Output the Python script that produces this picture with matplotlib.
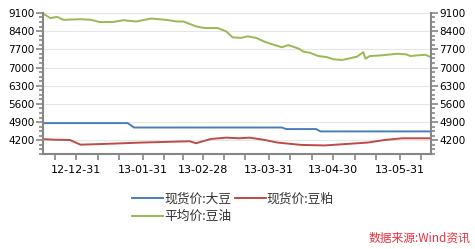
import matplotlib
matplotlib.use('Agg')
import matplotlib.pyplot as plt
import numpy as np
import pandas as pd

plt.rcParams['font.family'] = ['Noto Sans CJK SC', 'DejaVu Sans']

# 现货价:大豆
soy_dates = ['2012-12-16', '2013-01-24', '2013-01-27', '2013-04-06', '2013-04-08',
             '2013-04-22', '2013-04-24', '2013-06-14']
soy_vals = [4860, 4860, 4690, 4690, 4630, 4630, 4540, 4540]

# 现货价:豆粕
meal_dates = ['2012-12-16', '2012-12-21', '2012-12-28', '2013-01-02', '2013-01-14',
              '2013-01-30', '2013-02-17', '2013-02-22', '2013-02-25', '2013-02-28',
              '2013-03-04', '2013-03-11', '2013-03-17', '2013-03-22', '2013-03-29',
              '2013-04-04', '2013-04-15', '2013-04-26', '2013-05-05', '2013-05-16',
              '2013-05-24', '2013-06-01', '2013-06-14']
meal_vals = [4240, 4220, 4210, 4030, 4060,
             4110, 4150, 4160, 4085, 4160,
             4250, 4300, 4275, 4300, 4210,
             4110, 4020, 4000, 4050, 4110,
             4210, 4275, 4275]

# 平均价:豆油
oil_dates = ['2012-12-16', '2012-12-19', '2012-12-22', '2012-12-25', '2013-01-02',
             '2013-01-07', '2013-01-11', '2013-01-17', '2013-01-22', '2013-01-28',
             '2013-02-04', '2013-02-11', '2013-02-16', '2013-02-19', '2013-02-25',
             '2013-03-01', '2013-03-07', '2013-03-11', '2013-03-14', '2013-03-18',
             '2013-03-21', '2013-03-25', '2013-03-29', '2013-04-02', '2013-04-06',
             '2013-04-09', '2013-04-12', '2013-04-14', '2013-04-16', '2013-04-19',
             '2013-04-23', '2013-04-27', '2013-04-30', '2013-05-04', '2013-05-07',
             '2013-05-09', '2013-05-11', '2013-05-14', '2013-05-15', '2013-05-17',
             '2013-05-22', '2013-05-30', '2013-06-03', '2013-06-05', '2013-06-08',
             '2013-06-12', '2013-06-14']
oil_vals = [9050, 8900, 8950, 8835, 8860,
            8835, 8750, 8750, 8820, 8770,
            8885, 8835, 8770, 8770, 8580,
            8520, 8520, 8390, 8160, 8140,
            8200, 8140, 7990, 7880, 7780,
            7860, 7780, 7720, 7610, 7570,
            7440, 7400, 7315, 7290, 7340,
            7380, 7415, 7590, 7340, 7440,
            7465, 7530, 7505, 7440, 7465,
            7490, 7415]

tick_labels = ['12-12-31', '13-01-31', '13-02-28', '13-03-31', '13-04-30', '13-05-31']
label_dates = ['2012-12-31', '2013-01-31', '2013-02-28', '2013-03-31', '2013-04-30', '2013-05-31']
minor_dates = ['2012-12-21', '2013-01-10', '2013-01-20', '2013-02-10', '2013-02-19',
               '2013-03-10', '2013-03-20', '2013-04-10', '2013-04-20', '2013-05-10',
               '2013-05-20', '2013-06-10']
yticks = [4200, 4900, 5600, 6300, 7000, 7700, 8400, 9100]

blue = '#4a7ebb'
red = '#be4b48'
green = '#98b954'
axis_gray = '#868686'

fig = plt.figure(figsize=(4.75, 2.49), dpi=100)
ax = fig.add_axes([0.0905, 0.382, 0.8165, 0.566])

l_soy, = ax.plot(pd.to_datetime(soy_dates), soy_vals, color=blue, lw=1.4)
l_meal, = ax.plot(pd.to_datetime(meal_dates), meal_vals, color=red, lw=1.4)
l_oil, = ax.plot(pd.to_datetime(oil_dates), oil_vals, color=green, lw=1.4)

ax.set_xlim(pd.Timestamp('2012-12-15 12:00'), pd.Timestamp('2013-06-14 12:00'))
ax.set_ylim(3700, 9100)

ax.set_xticks(pd.to_datetime(label_dates))
ax.set_xticklabels(tick_labels, fontsize=8, family=['DejaVu Sans'])
ax.set_xticks(pd.to_datetime(minor_dates), minor=True)
ax.set_yticks(yticks)
ax.set_yticks(np.arange(3675, 9100, 175), minor=True)
ax.set_yticklabels([str(v) for v in yticks], fontsize=7.5, family=['DejaVu Sans'])

ax.grid(axis='y', color='#e6e6e6', lw=0.8)
ax.set_axisbelow(True)

ax.spines['top'].set_visible(False)
for s in ['left', 'right', 'bottom']:
    ax.spines[s].set_color(axis_gray)
    ax.spines[s].set_linewidth(1.5)

ax.tick_params(axis='y', which='both', direction='out', color=axis_gray, width=1.2,
               left=True, right=True, labelleft=True, labelright=True, pad=1)
ax.tick_params(axis='y', which='major', length=5)
ax.tick_params(axis='y', which='minor', length=3)
ax.tick_params(axis='x', which='both', direction='out', color=axis_gray, width=1.2,
               length=4, pad=4)

# legend fills column-wise: col 1 = 大豆, 豆油 ; col 2 = 豆粕
fig.legend([l_soy, l_oil, l_meal], ['现货价:大豆', '平均价:豆油', '现货价:豆粕'],
           loc='upper left', bbox_to_anchor=(0.278, 0.228), ncol=2, frameon=False,
           fontsize=9.2, handlelength=2.4, handletextpad=0.1, columnspacing=0.3,
           labelspacing=0.4, borderaxespad=0, borderpad=0, labelcolor='#333333')

fig.text(0.99, 0.045, '数据来源:Wind资讯', color='#e8303c', fontsize=8.5,
         style='italic', ha='right', va='center')

fig.savefig('out.png', dpi=100)
